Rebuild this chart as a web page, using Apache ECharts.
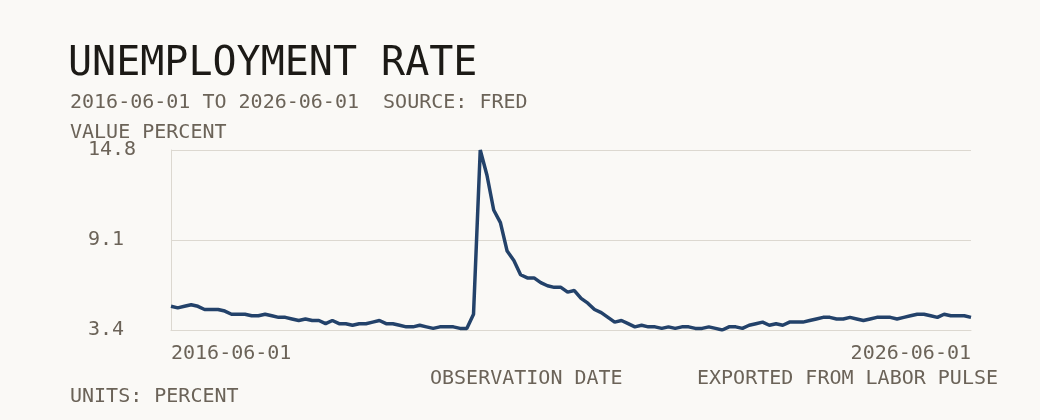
<!DOCTYPE html>
<html>
<head>
<meta charset="utf-8">
<script src="https://cdn.jsdelivr.net/npm/echarts@6/dist/echarts.min.js"></script>
<style>
    html, body { margin: 0; padding: 0; background: #faf9f6; }
    #chart { width: 1040px; height: 420px; }
</style>
</head>
<body>
<div id="chart"></div>
<script>
// monthly unemployment rate, percent (FRED UNRATE), 2016-06 onwards
const rates = [
    4.9, 4.8, 4.9, 5.0, 4.9, 4.7, 4.7, 4.7, 4.6, 4.4, 4.4, 4.4,
    4.3, 4.3, 4.4, 4.3, 4.2, 4.2, 4.1, 4.0, 4.1, 4.0, 4.0, 3.8,
    4.0, 3.8, 3.8, 3.7, 3.8, 3.8, 3.9, 4.0, 3.8, 3.8, 3.7, 3.6,
    3.6, 3.7, 3.6, 3.5, 3.6, 3.6, 3.6, 3.5, 3.5, 4.4, 14.8, 13.2,
    11.0, 10.2, 8.4, 7.8, 6.9, 6.7, 6.7, 6.4, 6.2, 6.1, 6.1, 5.8,
    5.9, 5.4, 5.1, 4.7, 4.5, 4.2, 3.9, 4.0, 3.8, 3.6, 3.7, 3.6,
    3.6, 3.5, 3.6, 3.5, 3.6, 3.6, 3.5, 3.5, 3.6, 3.5, 3.4, 3.6,
    3.6, 3.5, 3.7, 3.8, 3.9, 3.7, 3.8, 3.7, 3.9, 3.9, 3.9, 4.0,
    4.1, 4.2, 4.2, 4.1, 4.1, 4.2, 4.1, 4.0, 4.1, 4.2, 4.2, 4.2,
    4.1, 4.2, 4.3, 4.4, 4.4, 4.3, 4.2, 4.4, 4.3, 4.3, 4.3, 4.2
];
const yTicks = [3.4, 9.1, 14.8];

// observation dates: first of each month, no 2025-10 release
const dates = [];
for (let y = 2016, m = 6; ; m++) {
    if (m > 12) { m = 1; y++; }
    if (y > 2026 || (y === 2026 && m > 6)) break;
    if (y === 2025 && m === 10) continue;
    dates.push(y + '-' + String(m).padStart(2, '0') + '-01');
}

const font = 'DejaVu Sans Mono';
const grey = '#6b6358';
const rule = '#dcd8d0';

const myChart = echarts.init(document.getElementById('chart'));

const option = {
    backgroundColor: '#faf9f6',
    animation: false,
    title: [
        { text: 'UNEMPLOYMENT RATE', left: 68, top: 45, padding: 0,
          textStyle: { fontFamily: font, fontSize: 40, fontWeight: 'normal', color: '#1c1a16' } },
        { text: '2016-06-01 TO 2026-06-01  SOURCE: FRED', left: 70, top: 93, padding: 0,
          textStyle: { fontFamily: font, fontSize: 20, fontWeight: 'normal', color: grey } },
        { text: 'VALUE PERCENT', left: 70, top: 123, padding: 0,
          textStyle: { fontFamily: font, fontSize: 20, fontWeight: 'normal', color: grey } },
        { text: 'OBSERVATION DATE', left: 430, top: 369, padding: 0,
          textStyle: { fontFamily: font, fontSize: 20, fontWeight: 'normal', color: grey } },
        { text: 'EXPORTED FROM LABOR PULSE', right: 42, top: 369, padding: 0,
          textStyle: { fontFamily: font, fontSize: 20, fontWeight: 'normal', color: grey } },
        { text: 'UNITS: PERCENT', left: 70, top: 387, padding: 0,
          textStyle: { fontFamily: font, fontSize: 20, fontWeight: 'normal', color: grey } }
    ],
    grid: { left: 171, right: 69, top: 150, bottom: 90 },
    xAxis: {
        type: 'category',
        data: dates,
        boundaryGap: false,
        axisLine: { lineStyle: { color: rule, width: 1 } },
        axisTick: { show: false },
        axisLabel: {
            interval: (i) => i === 0 || i === dates.length - 1,
            showMinLabel: true,
            showMaxLabel: true,
            alignMinLabel: 'left',
            alignMaxLabel: 'right',
            margin: 14,
            fontFamily: font,
            fontSize: 20,
            color: grey
        },
        splitLine: { show: false }
    },
    yAxis: {
        type: 'value',
        min: 3.4,
        max: 14.8,
        axisLine: { show: true, lineStyle: { color: rule, width: 1 } },
        axisTick: { show: false, customValues: yTicks },
        axisLabel: {
            customValues: yTicks,
            formatter: (v) => v.toFixed(1),
            align: 'left',
            margin: 83,
            fontFamily: font,
            fontSize: 20,
            color: grey
        },
        splitLine: { show: true, lineStyle: { color: rule, width: 1 } }
    },
    series: [
        {
            type: 'line',
            data: rates,
            showSymbol: false,
            lineStyle: { color: '#23426a', width: 3.5 },
            itemStyle: { color: '#23426a' }
        }
    ]
};

myChart.setOption(option);
</script>
</body>
</html>
